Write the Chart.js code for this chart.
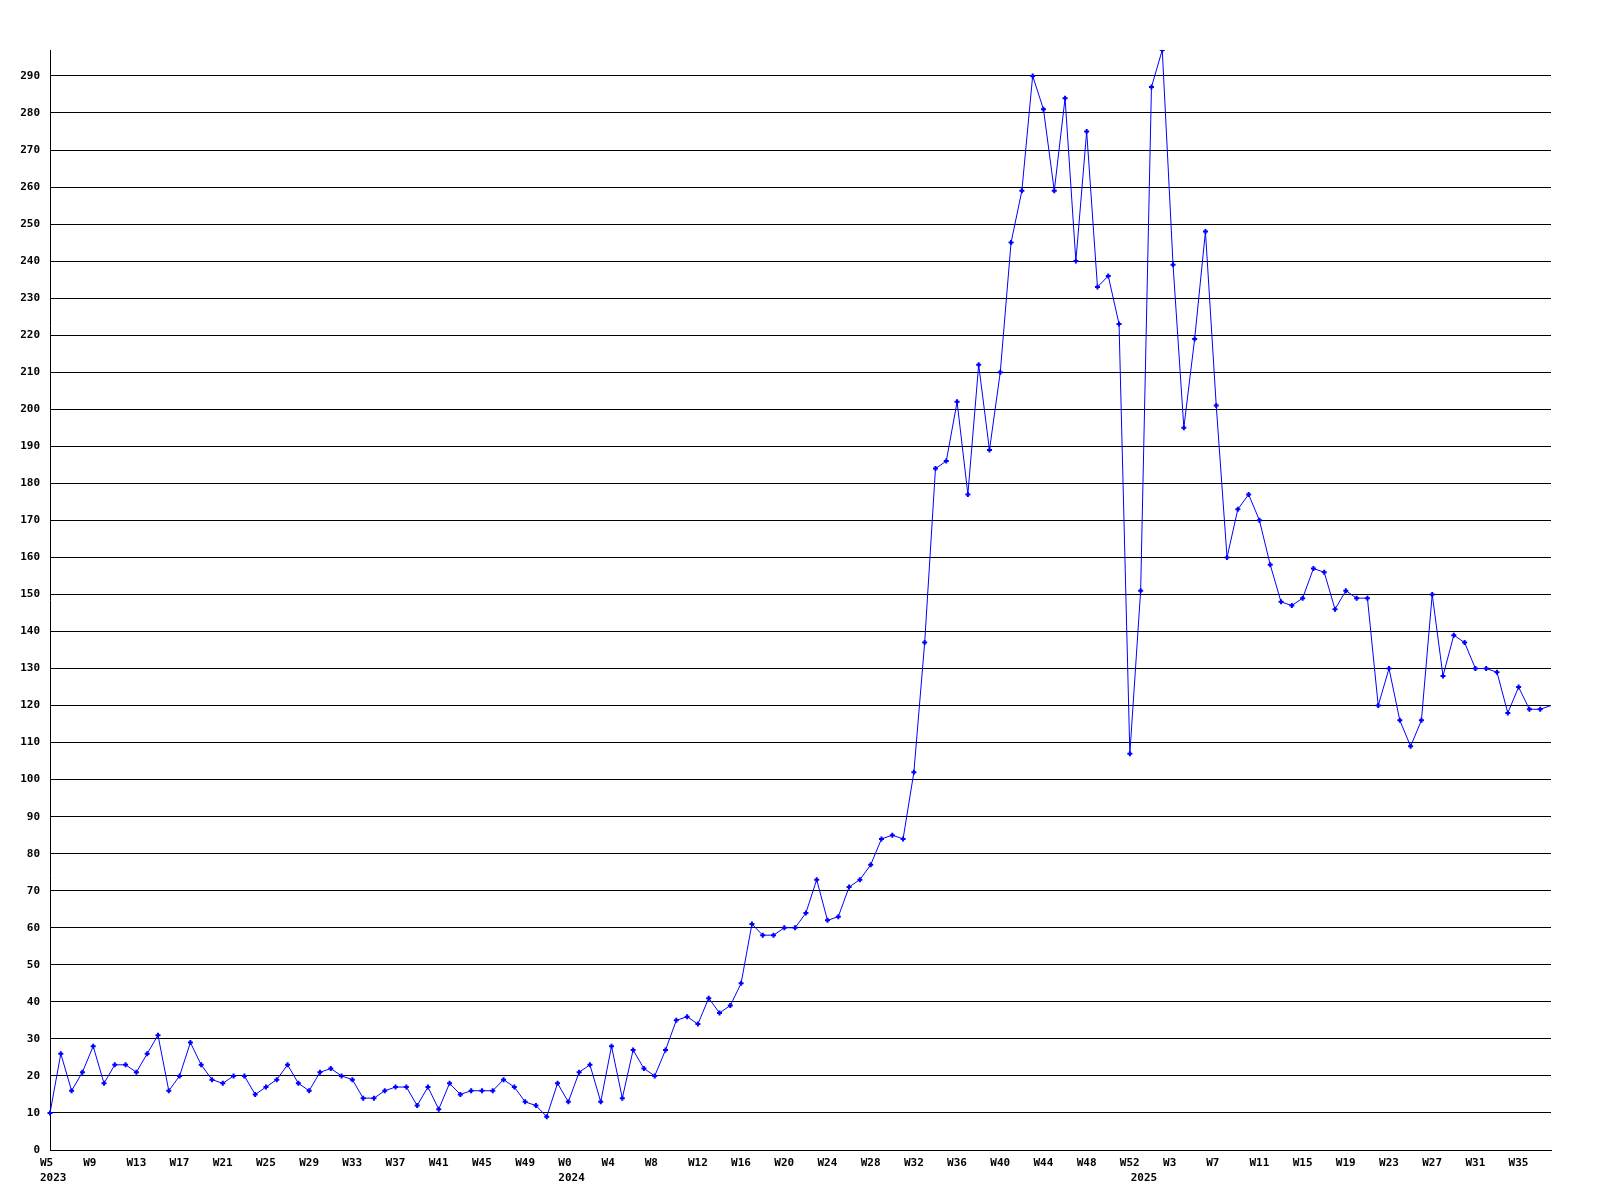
<!DOCTYPE html>
<html>
<head>
<meta charset="utf-8">
<title>Weekly count</title>
<script src="https://cdn.jsdelivr.net/npm/chart.js@4.4.1/dist/chart.umd.min.js"></script>
<style>
  html, body { margin: 0; padding: 0; background: #fff; }
  #chart { display: block; }
</style>
</head>
<body>
<canvas id="chart" width="1600" height="1200"></canvas>
<script>
"use strict";

// ─── Data ─────────────────────────────────────────────────
// week ranges shown on the x axis: [year, first week, last week]
const weekRanges = [
  [2023, 5, 52],
  [2024, 0, 52],
  [2025, 0, 38],
];

const counts = [
  10, 26, 16, 21, 28, 18, 23, 23, 21, 26, 31, 16, 20, 29, 23, 19,
  18, 20, 20, 15, 17, 19, 23, 18, 16, 21, 22, 20, 19, 14, 14, 16,
  17, 17, 12, 17, 11, 18, 15, 16, 16, 16, 19, 17, 13, 12,  9, 18,
  13, 21, 23, 13, 28, 14, 27, 22, 20, 27, 35, 36, 34, 41, 37, 39,
  45, 61, 58, 58, 60, 60, 64, 73, 62, 63, 71, 73, 77, 84, 85, 84,
  102, 137, 184, 186, 202, 177, 212, 189, 210, 245, 259, 290, 281, 259, 284, 240,
  275, 233, 236, 223, 107, 151, 287, 297, 239, 195, 219, 248, 201, 160, 173, 177,
  170, 158, 148, 147, 149, 157, 156, 146, 151, 149, 149, 120, 130, 116, 109, 116,
  150, 128, 139, 137, 130, 130, 129, 118, 125, 119, 119, 120,
];

// segments (by start index) that are not drawn in the original
const missingSegments = [17];

const yStep = 10;
const labelEvery = 4;

// ─── Categories ───────────────────────────────────────────
const weeks = [];
const yearStart = {};
weekRanges.forEach(([year, from, to]) => {
  yearStart[weeks.length] = year;
  for (let w = from; w <= to; w++) weeks.push({ year, week: w });
});
const categories = weeks.map(w => `${w.year}-W${w.week}`);

const LINE_COLOR = "#0000ff";
const FONT = { family: "'DejaVu Sans Mono', monospace", size: 11, weight: "bold", lineHeight: "15px" };

new Chart(document.getElementById("chart"), {
  type: "line",
  data: {
    labels: categories,
    datasets: [{
      data: counts,
      borderColor: LINE_COLOR,
      backgroundColor: LINE_COLOR,
      borderWidth: 1,
      tension: 0,
      fill: false,
      pointStyle: "cross",
      pointRadius: (c) => (c.dataIndex === counts.length - 1 ? 0 : 2.5),
      pointBorderWidth: 2,
      pointBorderColor: LINE_COLOR,
      segment: {
        borderColor: (c) => (missingSegments.includes(c.p0DataIndex) ? "rgba(0,0,0,0)" : LINE_COLOR),
      },
    }],
  },
  options: {
    responsive: false,
    animation: false,
    layout: { padding: { top: 50, right: 49, left: 0, bottom: 0 } },
    plugins: { legend: { display: false }, tooltip: { enabled: false } },
    scales: {
      x: {
        type: "category",
        offset: false,
        grid: { display: false, drawTicks: false },
        border: { display: true, color: "#000", width: 1 },
        afterFit: (s) => { s.height = 50; },
        ticks: {
          autoSkip: false,
          maxRotation: 0,
          minRotation: 0,
          align: "start",
          labelOffset: -10,
          padding: 6,
          color: "#000",
          font: FONT,
          callback: (v, i) => {
            const top = i % labelEvery === 0 ? `W${weeks[i].week}` : "";
            if (yearStart[i] !== undefined) return [top, String(yearStart[i])];
            return top;
          },
        },
      },
      y: {
        min: 0,
        max: Math.max(...counts),
        grid: { color: "#000", lineWidth: 1, drawTicks: false },
        border: { display: true, color: "#000", width: 1 },
        afterFit: (s) => { s.width = 50; },
        ticks: {
          stepSize: yStep,
          includeBounds: false,
          padding: 10,
          color: "#000",
          font: FONT,
        },
      },
    },
  },
});
</script>
</body>
</html>
